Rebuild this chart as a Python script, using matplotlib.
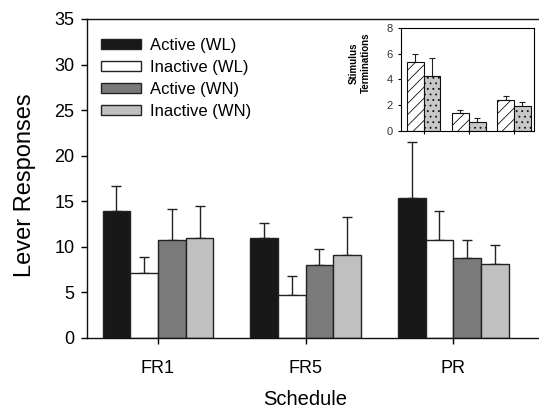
import numpy as np
import matplotlib
matplotlib.use("Agg")
import matplotlib.pyplot as plt

plt.rcParams['font.family'] = ['Liberation Sans', 'DejaVu Sans']
plt.rcParams['hatch.linewidth'] = 0.6

# main chart data
schedules = ["FR1", "FR5", "PR"]
series = ["Active (WL)", "Inactive (WL)", "Active (WN)", "Inactive (WN)"]
means = [
    [13.9, 10.95, 15.4],   # Active (WL)
    [7.1, 4.7, 10.8],      # Inactive (WL)
    [10.7, 8.0, 8.8],      # Active (WN)
    [11.0, 9.1, 8.1],      # Inactive (WN)
]
sems = [
    [2.8, 1.7, 6.1],
    [1.8, 2.1, 3.1],
    [3.4, 1.75, 1.95],
    [3.5, 4.2, 2.15],
]
colors = ["#181818", "#ffffff", "#7a7a7a", "#c0c0c0"]

# inset data (stimulus terminations)
inset_means = [
    [5.33, 1.37, 2.4],    # WL
    [4.24, 0.72, 1.91],   # WN
]
inset_sems = [
    [0.64, 0.26, 0.34],
    [1.44, 0.28, 0.34],
]

fig = plt.figure(figsize=(5.39, 4.09), dpi=100)
ax = fig.add_axes([0.1614, 0.1736, 0.8386, 0.78])

x = np.arange(len(schedules))
w = 0.1875
for i, (m, e, c) in enumerate(zip(means, sems, colors)):
    pos = x + (i - 1.5) * w
    ax.bar(pos, m, width=w, color=c, edgecolor="#222222", linewidth=1.0,
           label=series[i], zorder=2)
    ax.errorbar(pos, m, yerr=[np.zeros(len(e)), e], fmt="none",
                ecolor="#222222", elinewidth=1.0, capsize=3.5, capthick=1.0,
                zorder=1)

ax.set_xlim(-0.481, 2.581)
ax.set_ylim(0, 35)
ax.set_yticks(np.arange(0, 36, 5))
ax.set_xticks(x)
ax.set_xticklabels(schedules)
ax.spines['right'].set_visible(False)
for s in ['left', 'bottom', 'top']:
    ax.spines[s].set_linewidth(1.0)
    ax.spines[s].set_color("#111111")
ax.tick_params(axis='y', length=4, width=1, pad=5, labelsize=13)
ax.tick_params(axis='x', length=4, width=1, pad=12, labelsize=13)

ax.set_ylabel("Lever Responses", fontsize=17)
ax.yaxis.set_label_coords(-0.112, 0.48)
ax.set_xlabel("Schedule", fontsize=14.5)
ax.xaxis.set_label_coords(0.482, -0.162)

ax.legend(loc="upper left", bbox_to_anchor=(0.03, 0.94), frameon=False,
          fontsize=12, handlelength=2.4, handleheight=0.55,
          handletextpad=0.55, labelspacing=0.42, borderaxespad=0, borderpad=0)

# inset
ax_in = fig.add_axes([0.7434, 0.6797, 0.2473, 0.2526])
xi = np.arange(3)
wi = 0.37
hatches = ["///", "..."]
in_colors = ["#ffffff", "#c8c8c8"]
for i in range(2):
    pos = xi + (i - 0.5) * wi
    ax_in.bar(pos, inset_means[i], width=wi, color=in_colors[i],
              edgecolor="#111111", linewidth=0.8, hatch=hatches[i], zorder=2)
    ax_in.errorbar(pos, inset_means[i],
                   yerr=[np.zeros(3), inset_sems[i]], fmt="none",
                   ecolor="#222222", elinewidth=0.8, capsize=2.2,
                   capthick=0.8, zorder=1)
ax_in.set_xlim(-0.507, 2.44)
ax_in.set_ylim(0, 8)
ax_in.set_yticks([0, 2, 4, 6, 8])
ax_in.set_xticks(xi)
ax_in.set_xticklabels([])
ax_in.tick_params(axis='y', length=2.5, width=0.8, pad=3, labelsize=8,
                  labelcolor="#333333")
ax_in.tick_params(axis='x', length=2.5, width=0.8)
for s in ax_in.spines.values():
    s.set_linewidth(0.8)
ax_in.set_ylabel("Stimulus\nTerminations", fontsize=7, fontweight="bold",
                 linespacing=1.3)
ax_in.yaxis.set_label_coords(-0.22, 0.66)

fig.savefig("out.png", dpi=100)
